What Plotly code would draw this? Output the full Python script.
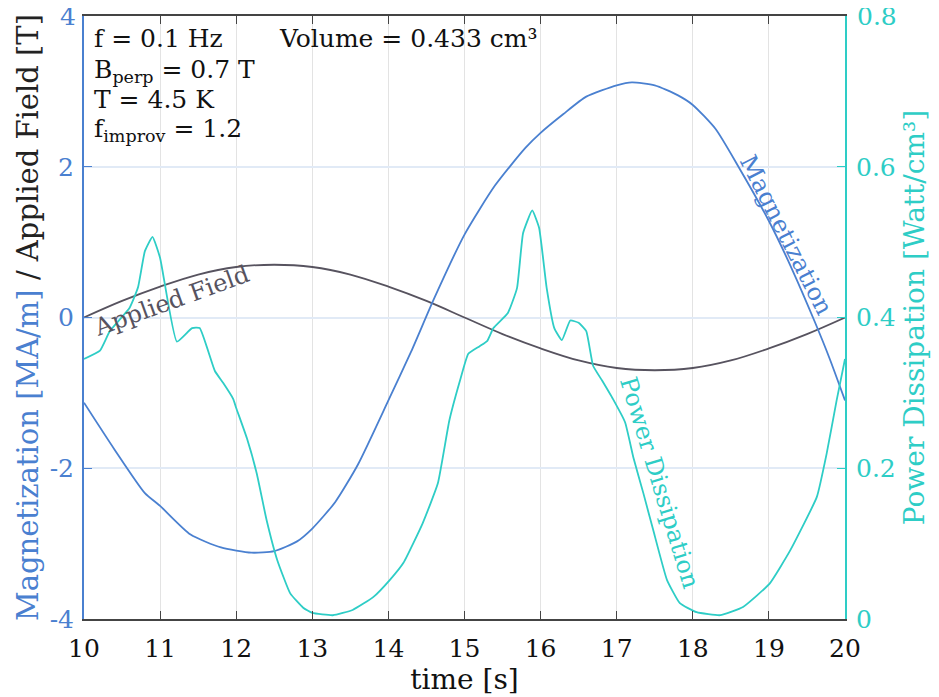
import plotly.graph_objects as go

# ---- data ----
t_field = [10.0, 10.5, 11.0, 11.5, 12.0, 12.5, 13.0, 13.5, 14.0, 14.5, 15.0,
           15.5, 16.0, 16.5, 17.0, 17.5, 18.0, 18.5, 19.0, 19.5, 20.0]
applied_field = [0.0, 0.22, 0.41, 0.57, 0.67, 0.70, 0.67, 0.57, 0.41, 0.22, 0.0,
                 -0.22, -0.41, -0.57, -0.67, -0.70, -0.67, -0.57, -0.41, -0.22, 0.0]

t_mag = [10.0, 10.4, 10.8, 11.0, 11.4, 11.8, 12.2, 12.5, 12.8, 13.0, 13.3, 13.6,
         14.0, 14.3, 14.6, 15.0, 15.4, 15.8, 16.0, 16.3, 16.6, 17.0, 17.2, 17.5,
         17.8, 18.0, 18.3, 18.6, 19.0, 19.3, 19.6, 19.8, 20.0]
magnetization = [-1.13, -1.75, -2.33, -2.50, -2.88, -3.05, -3.12, -3.10, -2.97, -2.80,
                 -2.45, -1.95, -1.10, -0.45, 0.25, 1.10, 1.75, 2.25, 2.45, 2.70, 2.93,
                 3.08, 3.12, 3.08, 2.95, 2.82, 2.50, 2.00, 1.28, 0.65, -0.05, -0.55, -1.10]

t_pow = [10.0, 10.21, 10.34, 10.6, 10.71, 10.8, 10.9, 11.0, 11.22, 11.42, 11.52,
         11.72, 11.83, 11.96, 12.0, 12.14, 12.27, 12.4, 12.54, 12.71, 12.88, 13.0,
         13.27, 13.53, 13.8, 14.02, 14.2, 14.45, 14.65, 14.8, 14.94, 15.05, 15.2,
         15.3, 15.38, 15.57, 15.69, 15.77, 15.89, 15.98, 16.08, 16.18, 16.28, 16.39,
         16.5, 16.6, 16.69, 16.81, 16.95, 17.11, 17.22, 17.35, 17.48, 17.66, 17.83,
         18.05, 18.36, 18.66, 19.01, 19.28, 19.63, 19.76, 19.89, 20.0]
power = [0.345, 0.356, 0.382, 0.413, 0.44, 0.488, 0.507, 0.479, 0.368, 0.386, 0.386,
         0.329, 0.313, 0.292, 0.28, 0.24, 0.193, 0.131, 0.078, 0.034, 0.015, 0.008,
         0.005, 0.012, 0.029, 0.052, 0.075, 0.127, 0.18, 0.263, 0.316, 0.352, 0.362,
         0.369, 0.386, 0.406, 0.439, 0.512, 0.542, 0.519, 0.439, 0.386, 0.370, 0.396,
         0.393, 0.382, 0.336, 0.316, 0.292, 0.261, 0.214, 0.167, 0.118, 0.052, 0.021,
         0.009, 0.005, 0.016, 0.047, 0.091, 0.162, 0.22, 0.29, 0.345]

x_ticks = [10, 11, 12, 13, 14, 15, 16, 17, 18, 19, 20]
y_ticks = [-4, -2, 0, 2, 4]
y_tick_text = ["-4", "-2", "0", "2", "4"]
y2_ticks = [0, 0.2, 0.4, 0.6, 0.8]
y2_tick_text = ["0", "0.2", "0.4", "0.6", "0.8"]

BLUE = "#4a80d0"
TEAL = "#2ecdc6"
GRAY = "#57535f"
FONT = "DejaVu Serif"

fig = go.Figure()
fig.add_trace(go.Scatter(x=t_field, y=applied_field, mode="lines",
                         line=dict(color=GRAY, width=1.8, shape="spline"),
                         showlegend=False))
fig.add_trace(go.Scatter(x=t_mag, y=magnetization, mode="lines",
                         line=dict(color=BLUE, width=1.8, shape="spline", smoothing=0.6),
                         showlegend=False))
fig.add_trace(go.Scatter(x=t_pow, y=power, mode="lines", yaxis="y2",
                         line=dict(color=TEAL, width=1.8, shape="spline", smoothing=0.4),
                         showlegend=False))

# plot area in page pixels: x 84..845, y 14..619 (page body adds 8px offset)
ann_font = dict(family=FONT, size=25, color="#111111")
def ptxt(px, py, text):
    return dict(xref="paper", yref="paper", x=(px - 84) / 761, y=(619 - py) / 605,
                text=text, showarrow=False, xanchor="left", yanchor="middle",
                font=ann_font)

annotations = [
    ptxt(92, 37, "f = 0.1 Hz"),
    ptxt(277, 37, "Volume = 0.433 cm³"),
    ptxt(92, 69, "B<sub>perp</sub> = 0.7 T"),
    ptxt(92, 98, "T = 4.5 K"),
    ptxt(92, 128, "f<sub>improv</sub> = 1.2"),
    dict(x=11.15, y=0.22, xref="x", yref="y", text="Applied Field", showarrow=False,
         textangle=-20, font=dict(family=FONT, size=24, color=GRAY)),
    dict(x=19.23, y=1.1, xref="x", yref="y", text="Magnetization", showarrow=False,
         textangle=63, font=dict(family=FONT, size=24, color=BLUE)),
    dict(x=17.56, y=-2.2, xref="x", yref="y", text="Power Dissipation", showarrow=False,
         textangle=73, font=dict(family=FONT, size=24, color=TEAL)),
    # top tick labels (plotly drops the ones sitting exactly on the top edge)
    dict(xref="paper", yref="y", x=0, y=y_ticks[-1], text=y_tick_text[-1],
         showarrow=False, xanchor="right", yanchor="middle", xshift=-6,
         font=dict(family=FONT, size=25, color=BLUE)),
    dict(xref="paper", yref="y2", x=1, y=y2_ticks[-1], text=y2_tick_text[-1],
         showarrow=False, xanchor="left", yanchor="middle", xshift=10,
         font=dict(family=FONT, size=25, color=TEAL)),
]

fig.update_layout(
    width=931, height=689,
    margin=dict(l=76, r=94, t=6, b=78),
    paper_bgcolor="white", plot_bgcolor="white",
    font=dict(family=FONT, size=24, color="#111111"),
    annotations=annotations,
    xaxis=dict(range=[10, 20], tickvals=x_ticks, showgrid=True, gridcolor="#e3e3e3",
               gridwidth=1, zeroline=False, showline=True, linecolor="#444444",
               linewidth=1.5, mirror="ticks", ticks="inside", ticklen=8,
               tickcolor="#444444", tickfont=dict(size=25, color="#111111"),
               ticklabelstandoff=6,
               title=dict(text="time [s]", font=dict(size=28, color="#111111"),
                          standoff=0)),
    yaxis=dict(range=[-4, 4], tickvals=y_ticks[:-1], ticktext=y_tick_text[:-1],
               showgrid=True, gridcolor="#e1eaf6",
               gridwidth=1.5, zeroline=False, showline=True, linecolor=BLUE,
               linewidth=2, ticks="inside", ticklen=8, tickcolor=BLUE,
               ticklabelstandoff=3,
               tickfont=dict(size=25, color=BLUE),
               title=dict(text=f'<span style="color:{BLUE}">Magnetization [MA/m]</span> / Applied Field [T]',
                          font=dict(size=29, color="#222222"), standoff=2)),
    yaxis2=dict(range=[0, 0.8], tickvals=y2_ticks[:-1], ticktext=y2_tick_text[:-1],
                overlaying="y", side="right",
                showgrid=False, zeroline=False, showline=True, linecolor=TEAL,
                linewidth=2, ticks="inside", ticklen=8, tickcolor=TEAL,
                ticklabelstandoff=4,
                tickfont=dict(size=25, color=TEAL),
                title=dict(text="Power Dissipation [Watt/cm³]",
                           font=dict(size=28, color=TEAL), standoff=10)),
)

fig.write_html("out.html")
